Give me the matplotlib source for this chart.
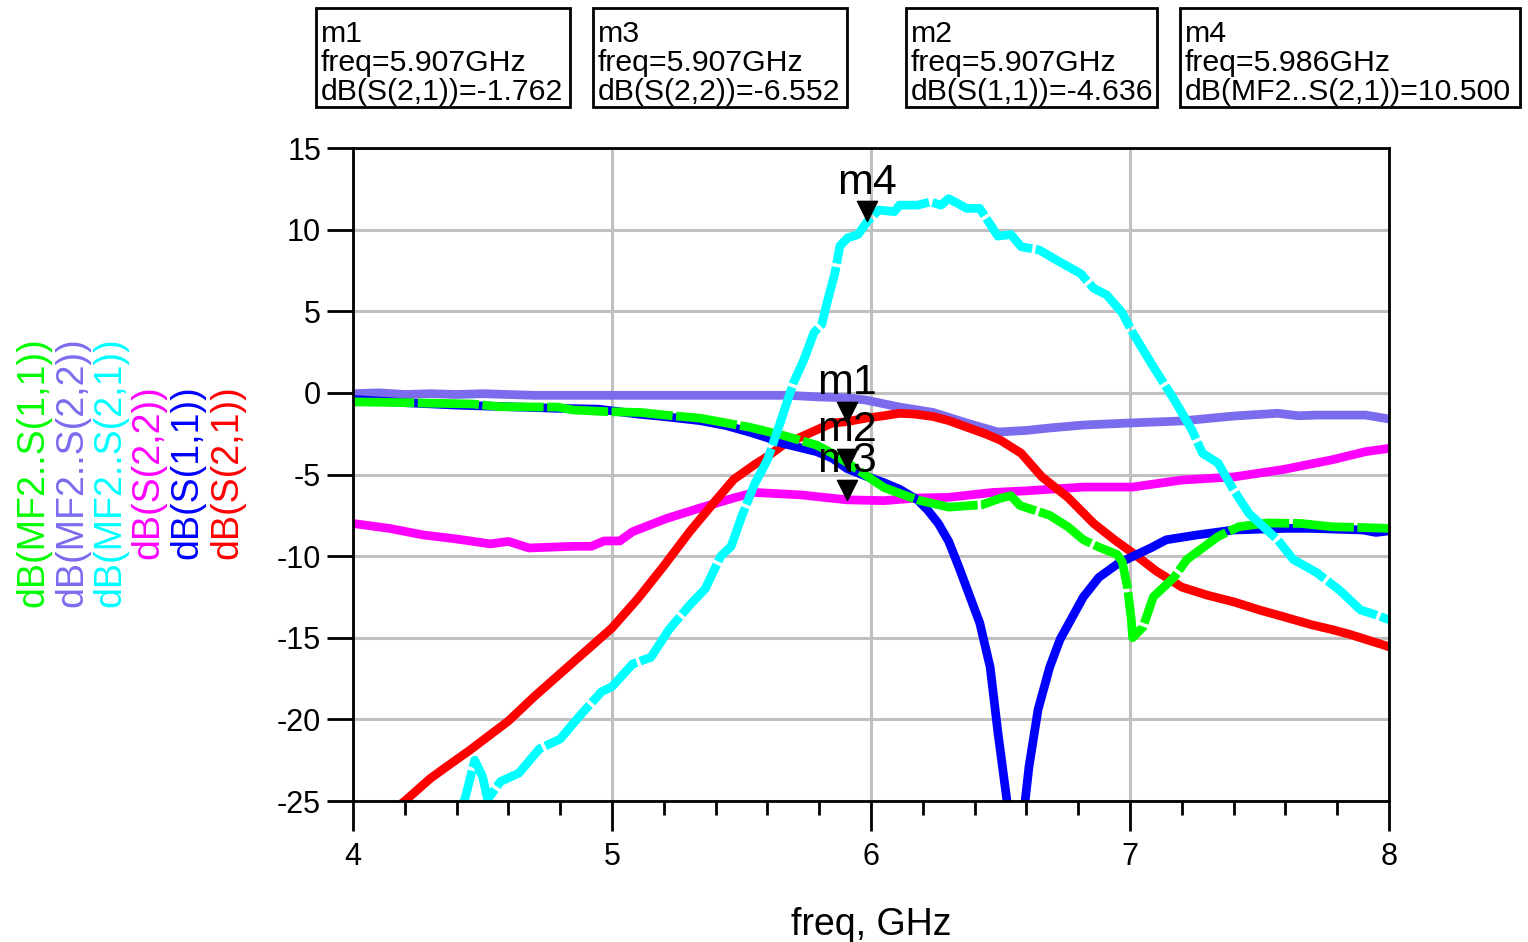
import numpy as np
import matplotlib
matplotlib.use('Agg')
import matplotlib.pyplot as plt
from matplotlib.path import Path
from matplotlib.patches import Rectangle

plt.rcParams['font.family'] = ['Liberation Sans', 'DejaVu Sans']
plt.rcParams['axes.unicode_minus'] = False

# --- data ---
red_f = [4.0, 4.2, 4.3, 4.37, 4.45, 4.5, 4.6, 4.7, 4.8, 4.9, 5.0, 5.1, 5.2, 5.3, 5.4,
         5.47, 5.55, 5.6, 5.66, 5.73, 5.8, 5.85, 5.907, 5.98, 6.05, 6.11, 6.17, 6.24,
         6.3, 6.37, 6.44, 6.5, 6.58, 6.66, 6.76, 6.86, 6.94, 7.01, 7.1, 7.2, 7.3, 7.4,
         7.5, 7.59, 7.7, 7.78, 7.85, 7.91, 8.0]
red_db = [-27.5, -25.0, -23.6, -22.8, -21.9, -21.3, -20.1, -18.6, -17.2, -15.8, -14.4,
          -12.6, -10.6, -8.5, -6.6, -5.3, -4.4, -3.9, -3.2, -2.7, -2.2, -1.85, -1.762,
          -1.55, -1.4, -1.25, -1.3, -1.45, -1.7, -2.1, -2.5, -2.9, -3.7, -5.15, -6.4,
          -8.0, -9.0, -9.8, -10.9, -11.9, -12.4, -12.8, -13.3, -13.7, -14.2, -14.5,
          -14.8, -15.1, -15.55]

blue_f = [4.0, 4.2, 4.4, 4.6, 4.8, 4.95, 5.1, 5.2, 5.34, 5.44, 5.53, 5.6, 5.66, 5.79,
          5.85, 5.907, 5.98, 6.05, 6.11, 6.18, 6.22, 6.26, 6.3, 6.34, 6.42, 6.46, 6.49,
          6.525, 6.56, 6.595, 6.61, 6.645, 6.69, 6.73, 6.82, 6.88, 6.95, 7.0, 7.08, 7.14,
          7.26, 7.4, 7.5, 7.6, 7.7, 7.8, 7.9, 7.95, 8.0]
blue_db = [-0.4, -0.6, -0.75, -0.85, -0.95, -1.0, -1.3, -1.45, -1.7, -2.0, -2.4, -2.75,
           -3.1, -3.6, -4.0, -4.636, -5.1, -5.5, -5.9, -6.56, -7.2, -8.0, -9.1, -10.7,
           -14.1, -16.8, -20.8, -25.0, -32.0, -25.0, -22.9, -19.4, -16.8, -15.1, -12.5,
           -11.3, -10.5, -10.1, -9.5, -9.0, -8.7, -8.4, -8.35, -8.3, -8.3, -8.35, -8.4,
           -8.55, -8.45]

mag_f = [4.0, 4.14, 4.27, 4.4, 4.53, 4.6, 4.68, 4.85, 4.92, 4.97, 5.03, 5.08, 5.21, 5.34,
         5.47, 5.55, 5.73, 5.907, 6.05, 6.18, 6.3, 6.47, 6.6, 6.82, 7.01, 7.2, 7.4, 7.59,
         7.78, 7.91, 8.0]
mag_db = [-8.0, -8.3, -8.7, -8.95, -9.25, -9.1, -9.5, -9.4, -9.4, -9.07, -9.07, -8.5,
          -7.7, -7.05, -6.44, -6.1, -6.25, -6.552, -6.6, -6.44, -6.4, -6.1, -6.0, -5.77,
          -5.77, -5.34, -5.15, -4.7, -4.1, -3.6, -3.4]

cyan_f = [4.0, 4.43, 4.47, 4.5, 4.52, 4.57, 4.64, 4.72, 4.8, 4.88, 4.96, 5.0, 5.08, 5.15,
          5.22, 5.3, 5.36, 5.42, 5.46, 5.5, 5.55, 5.6, 5.65, 5.7, 5.74, 5.78, 5.81, 5.83,
          5.86, 5.88, 5.91, 5.95, 5.986, 6.03, 6.09, 6.11, 6.18, 6.23, 6.27, 6.3, 6.37,
          6.42, 6.49, 6.54, 6.58, 6.65, 6.72, 6.81, 6.86, 6.91, 6.97, 7.01, 7.09, 7.17,
          7.24, 7.28, 7.34, 7.4, 7.46, 7.57, 7.63, 7.72, 7.81, 7.89, 7.95, 8.0]
cyan_db = [-32.0, -25.0, -22.5, -23.5, -24.9, -23.8, -23.3, -21.8, -21.2, -19.7, -18.3,
           -18.0, -16.6, -16.2, -14.5, -13.0, -12.0, -10.0, -9.4, -7.6, -5.6, -4.1, -1.8,
           0.6, 2.0, 3.7, 4.2, 5.5, 7.3, 9.0, 9.5, 9.7, 10.5, 11.2, 11.1, 11.5, 11.5,
           11.7, 11.5, 11.9, 11.3, 11.3, 9.6, 9.7, 8.95, 8.75, 8.1, 7.3, 6.4, 6.0, 4.9,
           3.7, 1.6, -0.4, -2.3, -3.7, -4.3, -5.95, -7.4, -9.0, -10.2, -11.0, -12.1,
           -13.3, -13.6, -13.9]

purp_f = [4.0, 4.1, 4.2, 4.3, 4.4, 4.5, 4.6, 4.7, 5.0, 5.3, 5.68, 5.8, 5.9, 5.98, 6.11,
          6.24, 6.37, 6.49, 6.6, 6.69, 6.82, 6.99, 7.2, 7.4, 7.57, 7.65, 7.72, 7.91, 8.0]
purp_db = [-0.05, 0.0, -0.1, -0.05, -0.1, -0.05, -0.1, -0.15, -0.15, -0.15, -0.15, -0.25,
           -0.3, -0.44, -0.87, -1.2, -1.85, -2.4, -2.3, -2.15, -1.97, -1.85, -1.72, -1.42,
           -1.25, -1.4, -1.36, -1.36, -1.6]

green_f = [4.0, 4.2, 4.46, 4.57, 4.79, 4.85, 4.98, 5.11, 5.2, 5.34, 5.53, 5.66, 5.79,
           5.85, 5.92, 6.05, 6.18, 6.3, 6.43, 6.5, 6.54, 6.575, 6.69, 6.76, 6.82, 6.88,
           6.95, 6.97, 6.99, 7.005, 7.01, 7.05, 7.09, 7.17, 7.22, 7.34, 7.42, 7.53, 7.66,
           7.78, 7.9, 8.0]
green_db = [-0.55, -0.6, -0.68, -0.85, -0.87, -1.05, -1.15, -1.2, -1.35, -1.55, -2.1,
            -2.6, -3.2, -3.7, -4.4, -5.8, -6.56, -7.0, -6.85, -6.45, -6.3, -6.9, -7.5,
            -8.2, -9.0, -9.45, -9.9, -10.35, -11.9, -13.9, -15.0, -14.35, -12.5, -11.3,
            -10.2, -8.8, -8.2, -7.97, -8.0, -8.2, -8.25, -8.3]

legend_labels = ['dB(MF2..S(1,1))', 'dB(MF2..S(2,2))', 'dB(MF2..S(2,1))',
                 'dB(S(2,2))', 'dB(S(1,1))', 'dB(S(2,1))']

marker_names = ['m1', 'm3', 'm2', 'm4']
marker_freq = [5.907, 5.907, 5.907, 5.986]
marker_db = [-1.762, -6.552, -4.636, 10.500]
marker_expr = ['dB(S(2,1))', 'dB(S(2,2))', 'dB(S(1,1))', 'dB(MF2..S(2,1))']

# colours
c_green = '#00ff00'
c_purp = '#7b6cee'
c_cyan = '#00ffff'
c_mag = '#ff00ff'
c_blue = '#0000ff'
c_red = '#ff0000'

W, H = 1528, 942
fig = plt.figure(figsize=(W / 100, H / 100), dpi=100)
ax = fig.add_axes([353 / W, 1 - 801 / H, (1389 - 353) / W, (801 - 148) / H])

lw = 6.3
ax.plot(mag_f, mag_db, color=c_mag, lw=lw)
ax.plot(purp_f, purp_db, color=c_purp, lw=lw)
ax.plot(red_f, red_db, color=c_red, lw=lw)
ax.plot(blue_f, blue_db, color=c_blue, lw=lw)
ax.plot(green_f, green_db, color=c_green, lw=lw, ls=(0, (7, 0.4)))
ax.plot(cyan_f, cyan_db, color=c_cyan, lw=lw, ls=(0, (7, 0.4)))

# marker triangles (tip on the data point)
tri = Path([(-0.5, 1.0), (0.5, 1.0), (0.0, 0.0), (-0.5, 1.0)],
           [Path.MOVETO, Path.LINETO, Path.LINETO, Path.CLOSEPOLY])
ax.plot(marker_freq, marker_db, ls='none', marker=tri, ms=29, color='black', zorder=10)
for name, f, v in zip(marker_names, marker_freq, marker_db):
    ax.annotate(name, (f, v), xytext=(0, 20), textcoords='offset points',
                ha='center', va='baseline', fontsize=31, zorder=11)

ax.set_xlim(4, 8)
ax.set_ylim(-25, 15)
ax.set_xticks([4, 5, 6, 7, 8])
ax.set_xticks(np.arange(4, 8.01, 0.2), minor=True)
ax.set_yticks(np.arange(-25, 16, 5))
ax.grid(True, which='major', color='#c0c0c0', lw=2.2)
ax.tick_params(axis='x', which='major', direction='out', length=21.5, width=2,
               labelsize=22, pad=8)
ax.tick_params(axis='x', which='minor', direction='out', length=10, width=2)
ax.tick_params(axis='y', which='major', direction='out', length=19, width=2,
               labelsize=22, pad=4)
for s in ax.spines.values():
    s.set_linewidth(2)
ax.set_xlabel('freq, GHz', fontsize=27, labelpad=25)

# rotated trace names on the left
leg_colors = [c_green, c_purp, c_cyan, c_mag, c_blue, c_red]
leg_x = [33, 72, 110, 148, 187, 227]
for lab, col, xp in zip(legend_labels, leg_colors, leg_x):
    fig.text(xp / W, 1 - 472 / H, lab, rotation=90, color=col, fontsize=27,
             ha='center', va='center')

# marker readout boxes
box_left = [316, 593, 906, 1180]
box_right = [570, 847, 1157, 1520]
for i in range(4):
    fig.patches.append(Rectangle((box_left[i] / W, 1 - 107 / H),
                                 (box_right[i] - box_left[i]) / W, 99 / H,
                                 transform=fig.transFigure, fill=False,
                                 ec='black', lw=2))
    lines = [marker_names[i], 'freq=%.3fGHz' % marker_freq[i],
             '%s=%.3f' % (marker_expr[i], marker_db[i])]
    for j, t in enumerate(lines):
        fig.text((box_left[i] + 5) / W, 1 - (42 + 29 * j) / H, t, fontsize=21.8,
                 ha='left', va='baseline')

fig.savefig('out.png', dpi=100)
